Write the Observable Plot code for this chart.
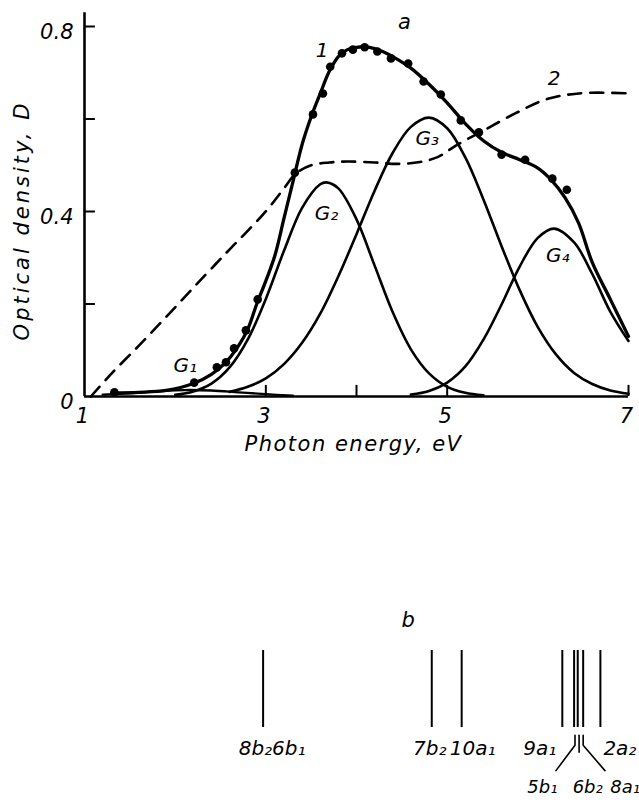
<!DOCTYPE html>
<html><head><meta charset="utf-8">
<script src="https://cdn.jsdelivr.net/npm/d3@7"></script>
<script src="https://cdn.jsdelivr.net/npm/@observablehq/plot@0.6"></script>
<style>
body{margin:0;background:#fff;}
#chart{width:639px;}
#chart svg{display:block;background:#fff;}
</style></head><body><div id="chart"></div>
<script>
// ---------- Panel a data ----------
const curve1E = [1.3,1.6,1.9,2.2,2.4,2.55,2.7,2.8,2.9,3.0,3.1,3.2,3.3,3.4,3.5,3.6,3.7,3.8,3.9,4.0,4.1,4.2,4.3,4.4,4.6,4.8,5.0,5.2,5.4,5.6,5.8,6.0,6.15,6.3,6.45,6.6,6.8,7.0];
const curve1D = [0.008,0.009,0.013,0.028,0.048,0.072,0.11,0.145,0.2,0.25,0.305,0.385,0.465,0.545,0.605,0.655,0.703,0.735,0.75,0.755,0.756,0.752,0.745,0.735,0.71,0.675,0.635,0.59,0.553,0.528,0.512,0.494,0.468,0.43,0.375,0.29,0.21,0.13];

const dotsE = [1.33,2.21,2.46,2.56,2.65,2.78,2.91,3.32,3.52,3.63,3.71,3.84,3.96,4.09,4.23,4.38,4.57,4.74,4.93,5.15,5.35,5.60,5.86,6.16,6.32];
const dotsD = [0.009,0.03,0.063,0.074,0.104,0.143,0.21,0.484,0.61,0.655,0.713,0.742,0.750,0.755,0.746,0.731,0.72,0.681,0.653,0.597,0.571,0.523,0.512,0.471,0.447];

const curve2E = [1.07,1.3,1.6,1.9,2.2,2.45,2.62,2.8,3.02,3.2,3.33,3.5,3.7,3.9,4.2,4.45,4.7,4.9,5.1,5.4,5.75,6.1,6.5,7.05];
const curve2D = [0,0.05,0.11,0.172,0.235,0.287,0.322,0.358,0.405,0.45,0.482,0.5,0.506,0.508,0.506,0.503,0.507,0.518,0.543,0.575,0.612,0.643,0.656,0.655];

const g1E = [1.2,1.5,1.8,2.1,2.4,2.7,3.0,3.3];
const g1D = [0.004,0.007,0.011,0.014,0.013,0.009,0.005,0.002];

const g2E = [2.0,2.2,2.4,2.6,2.8,3.0,3.2,3.4,3.6,3.67,3.8,4.0,4.2,4.4,4.6,4.8,5.0,5.2,5.4];
const g2D = [0.0035,0.011,0.028,0.063,0.123,0.211,0.315,0.408,0.459,0.463,0.45,0.383,0.283,0.182,0.102,0.05,0.021,0.008,0.0025];

const g3E = [2.6,2.8,3.0,3.2,3.4,3.6,3.8,4.0,4.2,4.4,4.6,4.8,5.0,5.2,5.4,5.6,5.8,6.0,6.2,6.4,6.6,6.8,7.0];
const g3D = [0.01,0.021,0.039,0.07,0.116,0.179,0.26,0.351,0.445,0.527,0.583,0.603,0.58,0.517,0.426,0.325,0.23,0.15,0.091,0.051,0.027,0.013,0.006];

const g4E = [4.6,4.8,5.0,5.2,5.4,5.6,5.8,6.0,6.18,6.4,6.6,6.8,7.0];
const g4D = [0.004,0.012,0.03,0.065,0.123,0.199,0.281,0.343,0.363,0.333,0.265,0.183,0.12];

const yTickValues = [0.2,0.4,0.6,0.8];
const yTickLabels = [0,0.4,0.8];
const xTickValues = [3,4,5,7];
const xTickLabels = [1,3,5,7];

const curveLabelText = ["1","2","G₁","G₂","G₃","G₄"];
const curveLabelE = [3.62,6.18,2.11,3.67,4.78,6.22];
const curveLabelD = [0.748,0.688,0.067,0.396,0.558,0.305];

// ---------- Panel b data ----------
const stickE = [2.97,4.83,5.16,6.27,6.40,6.44,6.50,6.69];
const orbitalText = ["8b₂6b₁","7b₂","10a₁","9a₁","2a₂","5b₁","6b₂","8a₁"];
const orbitalE    = [2.97,4.83,5.16,6.27,6.69,6.05,6.55,6.8];
const orbitalRow  = [1,1,1,1,1,2,2,2];

const leaderName = ["5b₁","5b₁","5b₁","6b₂","6b₂","8a₁","8a₁","8a₁"];
const leaderE = [6.41,6.41,6.20,6.455,6.455,6.50,6.50,6.74];
const leaderY = [-0.1,-0.23,-0.56,-0.1,-0.32,-0.1,-0.23,-0.56];

// ---------- styling ----------
const FONT = "'DejaVu Sans', 'Liberation Sans', sans-serif";
const T = {fontFamily: FONT, fontStyle: "italic", fill: "black"};

const zip = (a, b) => a.map((v, i) => ({x: v, y: b[i]}));

const plotA = Plot.plot({
  width: 639, height: 470,
  marginLeft: 84, marginRight: 11, marginTop: 26, marginBottom: 74,
  x: {domain: [1, 7], axis: null},
  y: {domain: [0, 0.8], axis: null},
  marks: [
    Plot.line(zip(g1E, g1D), {x: "x", y: "y", stroke: "black", strokeWidth: 2.3, curve: "catmull-rom"}),
    Plot.line(zip(g2E, g2D), {x: "x", y: "y", stroke: "black", strokeWidth: 2.6, curve: "catmull-rom"}),
    Plot.line(zip(g3E, g3D), {x: "x", y: "y", stroke: "black", strokeWidth: 2.6, curve: "catmull-rom"}),
    Plot.line(zip(g4E, g4D), {x: "x", y: "y", stroke: "black", strokeWidth: 2.6, curve: "catmull-rom"}),
    Plot.line(zip(curve2E, curve2D), {x: "x", y: "y", stroke: "black", strokeWidth: 2.6, strokeDasharray: "13,9", curve: "catmull-rom"}),
    Plot.line(zip(curve1E, curve1D), {x: "x", y: "y", stroke: "black", strokeWidth: 3.3, curve: "catmull-rom"}),
    Plot.dot(zip(dotsE, dotsD), {x: "x", y: "y", r: 4.3, fill: "black", stroke: "none"}),
    // axes
    Plot.ruleY([0], {x1: 1, x2: 7, stroke: "black", strokeWidth: 2.6}),
    Plot.ruleX([1], {y1: 0, y2: 0.83, stroke: "black", strokeWidth: 2.6}),
    Plot.ruleY(yTickValues, {x1: 1, x2: 1.12, stroke: "black", strokeWidth: 2}),
    Plot.ruleX(xTickValues, {y1: 0, y2: 0.024, stroke: "black", strokeWidth: 2}),
    Plot.text(yTickLabels, {x: 1, y: d => d, text: d => d === 0 ? "0" : d.toFixed(1), textAnchor: "end", dx: -11, dy: 6, fontSize: 21, ...T}),
    Plot.text(xTickLabels, {x: d => d, y: 0, text: d => String(d), dx: -2, dy: 20, fontSize: 21, ...T}),
    Plot.text(["Photon energy, eV"], {frameAnchor: "bottom", lineAnchor: "middle", textAnchor: "middle", text: d => d, dy: 48, dx: -3, fontSize: 21, ...T}),
    Plot.text(["Optical density, D"], {frameAnchor: "left", lineAnchor: "middle", textAnchor: "middle", text: d => d, rotate: -90, dx: -62, dy: 9, fontSize: 21, ...T}),
    Plot.text(["a"], {x: 4.53, y: 0.809, text: d => d, fontSize: 21, ...T}),
    Plot.text(curveLabelText.map((t, i) => ({t, x: curveLabelE[i], y: curveLabelD[i]})), {x: "x", y: "y", text: "t", fontSize: 20, ...T})
  ]
});

const rows = orbitalText.map((t, i) => ({t, x: orbitalE[i], row: orbitalRow[i]}));
const plotB = Plot.plot({
  width: 639, height: 330,
  marginLeft: 84, marginRight: 11, marginTop: 180, marginBottom: 73,
  x: {domain: [1, 7], axis: null},
  y: {domain: [0, 1], axis: null},
  marks: [
    Plot.ruleX(stickE, {y1: 0, y2: 1, stroke: "black", strokeWidth: 2}),
    Plot.line(leaderName.map((z, i) => ({z, x: leaderE[i], y: leaderY[i]})), {x: "x", y: "y", z: "z", stroke: "black", strokeWidth: 1.6}),
    Plot.text(["b"], {x: 4.57, y: 1.39, text: d => d, fontSize: 21, ...T}),
    Plot.text(rows.filter(d => d.row === 1 && d.t === "8b₂6b₁"), {x: "x", y: -0.27, text: "t", dx: 9, fontSize: 20, ...T}),
    Plot.text(rows.filter(d => d.row === 1 && d.t === "7b₂"), {x: "x", y: -0.27, text: "t", dx: -2, fontSize: 20, ...T}),
    Plot.text(rows.filter(d => d.row === 1 && d.t === "10a₁"), {x: "x", y: -0.27, text: "t", dx: 11, fontSize: 20, ...T}),
    Plot.text(rows.filter(d => d.row === 1 && d.t === "9a₁"), {x: "x", y: -0.27, text: "t", textAnchor: "end", dx: -6, fontSize: 20, ...T}),
    Plot.text(rows.filter(d => d.row === 1 && d.t === "2a₂"), {x: "x", y: -0.27, text: "t", textAnchor: "start", dx: 3, fontSize: 20, ...T}),
    Plot.text(rows.filter(d => d.row === 2 && d.t !== "8a₁"), {x: "x", y: -0.77, text: "t", fontSize: 18, ...T}),
    Plot.text(rows.filter(d => d.row === 2 && d.t === "8a₁"), {x: "x", y: -0.77, text: "t", textAnchor: "start", fontSize: 18, ...T})
  ]
});

// letter spacing for the two axis titles, as in the reference's wide typewriter lettering
d3.select(plotA).selectAll("text").filter(function() {
  const s = this.textContent;
  return s === "Photon energy, eV" || s === "Optical density, D";
}).style("letter-spacing", function() { return this.textContent.startsWith("Optical") ? "3px" : "1.5px"; });

document.getElementById("chart").append(plotA, plotB);
</script></body></html>
